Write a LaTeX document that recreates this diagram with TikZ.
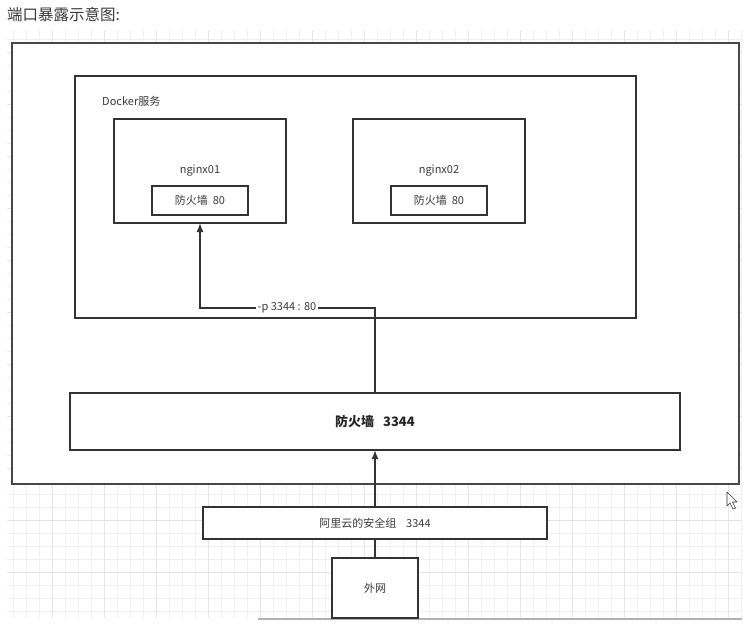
\documentclass[tikz,border=0pt]{standalone}
\usepackage{fontspec}
\setmainfont{Noto Sans CJK SC}
\usetikzlibrary{arrows.meta}
\definecolor{ln}{HTML}{333333}
\definecolor{tx}{HTML}{3A3A3A}
\definecolor{gridc}{HTML}{F0F0F0}
\definecolor{gridd}{HTML}{E4E4E4}
\tikzset{
  box/.style={draw=ln, line width=1.6pt, fill=white, inner sep=0pt, outer sep=0pt, text=tx, font=\fontsize{11}{13}\selectfont},
  lbl/.style={text=tx, font=\fontsize{11}{13}\selectfont, inner sep=1pt},
  conn/.style={draw=ln, line width=1.6pt},
  arr/.style={conn, -{Latex[length=9pt,width=7pt]}}
}
\begin{document}
\begin{tikzpicture}[x=1pt,y=-1pt]
\useasboundingbox (0,0) rectangle (748,624);
\fill[white] (0,0) rectangle (748,624);
% grid background
\draw[gridc, line width=0.8pt, step=13pt] (7,30) grid (742,618);
\draw[gridd, line width=0.8pt, step=52pt] (7,30) grid (742,618);
\draw[gray!60, line width=1.2pt] (258,619) -- (742,619);
% title
\node[anchor=west, text=tx, font=\fontsize{15.5}{18}\selectfont, inner sep=0pt] (title) at (7,15) {端口暴露示意图:};
% outer host
\node[box, draw=ln!90, line width=2pt, minimum width=727pt, minimum height=441pt] (host) at (375.5,263.5) {};
% docker service
\node[box, minimum width=561pt, minimum height=242pt] (docker) at (355.5,197) {};
\node[lbl, anchor=west] (dockerlbl) at (101,101) {Docker服务};
% nginx01
\node[box, minimum width=172pt, minimum height=104pt] (n1) at (200,171) {};
\node[lbl] (n1lbl) at (200,171) {nginx01};
\node[box, minimum width=96pt, minimum height=29pt] (fw1) at (200,200.5) {防火墙\ \ 80};
% nginx02
\node[box, minimum width=172pt, minimum height=104pt] (n2) at (439,171) {};
\node[lbl] (n2lbl) at (439,171) {nginx02};
\node[box, minimum width=96pt, minimum height=29pt] (fw2) at (439,200.5) {防火墙\ \ 80};
% host firewall
\node[box, minimum width=610pt, minimum height=57pt, font=\fontsize{13}{15}\selectfont\bfseries, text=black!85] (fw) at (375,421.5) {防火墙\ \ \ 3344};
% security group
\node[box, minimum width=344pt, minimum height=32pt] (sg) at (375,523) {阿里云的安全组\ \ \ \ 3344};
% internet
\node[box, minimum width=86pt, minimum height=60pt] (ww) at (375,588) {外网};
% connectors
\coordinate (bend) at (375,308);
\draw[arr] (fw.north) -- (bend) -| (n1.south);
\node[lbl, fill=white, inner sep=1.5pt] (portmap) at (287,308) {-p 3344 : 80};
\draw[arr] (sg.north) -- (fw.south);
\draw[conn] (ww.north) -- (sg.south);
% mouse cursor
\draw[black!80, fill=white, line width=0.6pt, line join=round] (727,492) -- (727,506) -- (730,503) -- (733,509) -- (735.5,508) -- (732.5,502) -- (737,502) -- cycle;
\end{tikzpicture}
\end{document}
